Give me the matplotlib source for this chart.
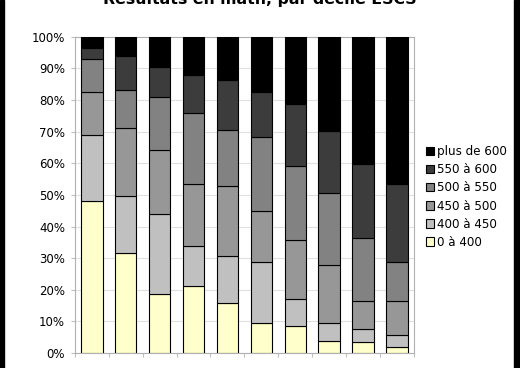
import numpy as np
import matplotlib
matplotlib.use('Agg')
import matplotlib.pyplot as plt
from matplotlib.patches import Rectangle

# cumulative tops (%), per decile
deciles = np.arange(1, 11)
series = ['0 à 400', '400 à 450', '450 à 500', '500 à 550', '550 à 600', 'plus de 600']
cum_400 = [48.2, 31.7, 18.6, 21.3, 15.7, 9.4, 8.6, 3.9, 3.4, 1.9]
cum_450 = [69.0, 49.8, 44.0, 33.7, 30.8, 28.7, 17.0, 9.5, 7.5, 5.6]
cum_500 = [82.6, 71.2, 64.2, 53.4, 52.8, 44.9, 35.8, 27.7, 16.5, 16.3]
cum_550 = [93.0, 83.1, 81.1, 76.0, 70.4, 68.3, 59.2, 50.7, 36.5, 28.7]
cum_600 = [96.5, 93.8, 90.4, 87.9, 86.2, 82.5, 78.7, 70.1, 59.7, 53.3]
cum_all = [100] * 10
colors = ['#ffffcc', '#c0c0c0', '#979797', '#828282', '#3c3c3c', '#000000']
yticks = np.arange(0, 101, 10)

cums = np.array([cum_400, cum_450, cum_500, cum_550, cum_600, cum_all])
parts = np.diff(np.vstack([np.zeros(10), cums]), axis=0)

fig = plt.figure(figsize=(5.2, 3.68), dpi=100)
ax = fig.add_axes([0.144, 0.0408, 0.652, 0.859])

bottom = np.zeros(10)
for i, name in enumerate(series):
    ax.bar(deciles, parts[i], bottom=bottom, width=0.63, color=colors[i],
           edgecolor='black', linewidth=0.8, label=name, zorder=3)
    bottom += parts[i]

ax.set_xlim(0.5, 10.5)
ax.set_ylim(0, 100)
ax.set_yticks(yticks)
ax.set_yticklabels(['%d%%' % v for v in yticks], fontsize=8.5)
ax.set_xticks(np.arange(0.5, 11, 1))
ax.set_xticklabels([])
ax.tick_params(axis='x', length=3, color='#c0c0c0')
ax.tick_params(axis='y', length=3, color='#c0c0c0', pad=4)
ax.grid(axis='y', color='#e0e0e0', linewidth=0.8, zorder=0)
for s in ax.spines.values():
    s.set_color('#b0b0b0')

h, l = ax.get_legend_handles_labels()
fig.legend(h[::-1], l[::-1], loc='center left', bbox_to_anchor=(0.81, 1 - 197 / 368),
           frameon=False, fontsize=8.6, handlelength=0.7, handleheight=0.7,
           handletextpad=0.25, labelspacing=0.42, borderaxespad=0)

fig.text(0.5, 1 - 4 / 368, 'Résultats en math, par décile ESCS', ha='center',
         va='baseline', fontsize=11.3, fontweight='bold')

# black frame pieces visible at the edges
fig.patches.append(Rectangle((0, 0), 4 / 520, 1, transform=fig.transFigure,
                             color='black', zorder=10))
fig.patches.append(Rectangle((514 / 520, 0), 6 / 520, 1, transform=fig.transFigure,
                             color='black', zorder=10))

fig.savefig('out.png', dpi=100)
